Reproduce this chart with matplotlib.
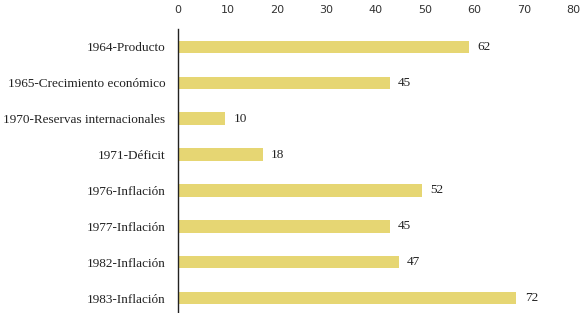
import numpy as np
from matplotlib import pyplot as plt

categories = [
    "1964-Producto",
    "1965-Crecimiento económico",
    "1970-Reservas internacionales",
    "1971-Déficit",
    "1976-Inflación",
    "1977-Inflación",
    "1982-Inflación",
    "1983-Inflación",
]
values = [62, 45, 10, 18, 52, 45, 47, 72]
tick_values = [0, 10, 20, 30, 40, 50, 60, 70, 80]

bar_color = "#E6D673"
serif = ["Liberation Serif", "DejaVu Serif"]

W, H = 584, 313
fig = plt.figure(figsize=(W / 100, H / 100), dpi=100)
# axes spans the bar area; bottom runs slightly below the figure edge
left, right = 178, 578
top, bottom = 29, 316
ax = fig.add_axes([left / W, (H - bottom) / H, (right - left) / W, (bottom - top) / H])

y = np.arange(len(categories))
ax.barh(y, values, height=0.35, color=bar_color, zorder=2)
ax.set_ylim(len(categories) - 0.5, -0.5)
ax.set_xlim(0, (right - left) / 4.70)

for yi, v in zip(y, values):
    ax.annotate(str(v), (v, yi), xytext=(6, 0), textcoords="offset points",
                va="center", ha="left", fontsize=9.5, family=serif, color="#222222")

ax.set_yticks(y)
ax.set_yticklabels(categories, fontsize=9.5, family=serif, color="#222222")
ax.tick_params(axis="y", length=0, pad=9)
ax.tick_params(axis="x", bottom=False, labelbottom=False)

for side in ["top", "right", "bottom"]:
    ax.spines[side].set_visible(False)
ax.spines["left"].set_color("#222222")
ax.spines["left"].set_linewidth(1.0)

# the printed scale runs slightly wider than the bars
s = 4.945 / 4.70
sec = ax.secondary_xaxis("top", functions=(lambda x: x / s, lambda x: x * s))
sec.set_xticks(tick_values)
sec.tick_params(length=0, labelsize=8, labelcolor="#333333", pad=10)
sec.spines["top"].set_visible(False)

fig.savefig("out.png", dpi=100)
